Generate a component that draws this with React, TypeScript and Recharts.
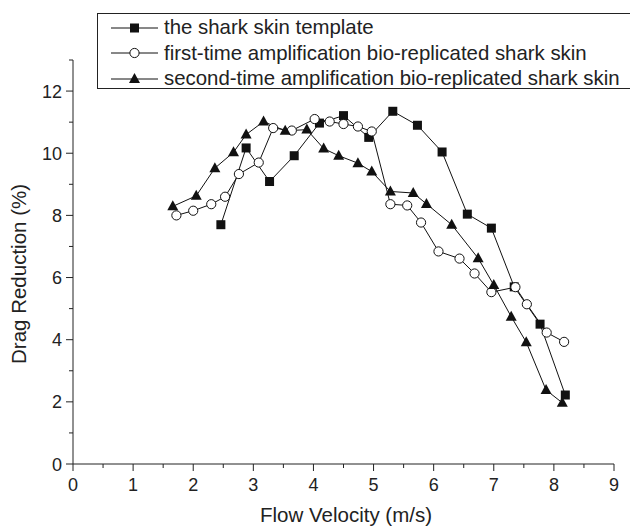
import React from 'react';
import { LineChart, Line, XAxis, YAxis, Legend, Label } from 'recharts';

// shark skin template
const templateX = [2.46, 2.88, 3.27, 3.68, 4.10, 4.50, 4.92, 5.32, 5.73, 6.14, 6.56, 6.96, 7.34, 7.77, 8.19];
const templateY = [7.70, 10.17, 9.09, 9.92, 10.97, 11.21, 10.51, 11.35, 10.90, 10.04, 8.04, 7.59, 5.70, 4.50, 2.22];

// first-time amplification
const firstX = [1.72, 2.0, 2.30, 2.53, 2.76, 3.09, 3.33, 3.64, 4.02, 4.27, 4.50, 4.74, 4.97, 5.28, 5.56, 5.79, 6.08, 6.43, 6.68, 6.96, 7.36, 7.55, 7.88, 8.17];
const firstY = [8.0, 8.15, 8.36, 8.6, 9.33, 9.7, 10.81, 10.73, 11.1, 11.02, 10.94, 10.86, 10.70, 8.36, 8.32, 7.77, 6.84, 6.61, 6.13, 5.53, 5.69, 5.14, 4.23, 3.93];

// second-time amplification
const secondX = [1.66, 2.05, 2.36, 2.67, 2.88, 3.17, 3.53, 3.89, 4.17, 4.42, 4.74, 4.97, 5.28, 5.66, 5.88, 6.30, 6.74, 7.0, 7.29, 7.54, 7.87, 8.14];
const secondY = [8.29, 8.63, 9.52, 10.03, 10.6, 11.02, 10.72, 10.76, 10.15, 9.92, 9.68, 9.41, 8.77, 8.72, 8.37, 7.70, 6.62, 5.76, 4.74, 3.92, 2.38, 1.97];

const xTicks = [0, 0.5, 1, 1.5, 2, 2.5, 3, 3.5, 4, 4.5, 5, 5.5, 6, 6.5, 7, 7.5, 8, 8.5, 9];
const yTicks = [0, 1, 2, 3, 4, 5, 6, 7, 8, 9, 10, 11, 12, 13];

const seriesNames = [
    'the shark skin template',
    'first-time amplification bio-replicated shark skin',
    'second-time amplification bio-replicated shark skin',
];

const toPoints = (xs: number[], ys: number[]) => xs.map((x, i) => ({ x, y: ys[i] }));

const templateData = toPoints(templateX, templateY);
const firstData = toPoints(firstX, firstY);
const secondData = toPoints(secondX, secondY);

const FONT = '"Liberation Sans", Arial, sans-serif';
const INK = '#222';

const SquareDot = ({ cx, cy }: any) => <rect x={cx - 4.5} y={cy - 4.5} width={9} height={9} fill="#111" />;
const CircleDot = ({ cx, cy }: any) => <circle cx={cx} cy={cy} r={4.6} fill="#fff" stroke="#111" strokeWidth={1} />;
const TriangleDot = ({ cx, cy }: any) => (
    <polygon points={`${cx},${cy - 6} ${cx - 5.5},${cy + 4} ${cx + 5.5},${cy + 4}`} fill="#111" />
);

const markers = [SquareDot, CircleDot, TriangleDot];

const XTick = ({ x, y, payload }: any) => {
    const major = Number.isInteger(payload.value);
    return (
        <g>
            <line x1={x} x2={x} y1={y} y2={y + (major ? 7 : 4)} stroke={INK} />
            {major && (
                <text x={x} y={y + 27} textAnchor="middle" fontSize={18} fill={INK} fontFamily={FONT}>
                    {payload.value}
                </text>
            )}
        </g>
    );
};

const YTick = ({ x, y, payload }: any) => {
    const v = payload.value;
    const major = v % 2 === 0 && v <= 12;
    return (
        <g>
            <line x1={x - (major ? 7 : 4)} x2={x} y1={y} y2={y} stroke={INK} />
            {major && (
                <text x={x - 11} y={y + 6.5} textAnchor="end" fontSize={18} fill={INK} fontFamily={FONT}>
                    {v}
                </text>
            )}
        </g>
    );
};

const LegendBox = () => (
    <div
        style={{
            border: `1px solid ${INK}`,
            borderRight: 'none',
            width: 540,
            height: 76,
            boxSizing: 'border-box',
            paddingTop: 1,
            fontFamily: FONT,
            fontSize: 20.4,
            color: INK,
            background: '#fff',
        }}
    >
        {seriesNames.map((name, i) => {
            const Marker = markers[i];
            return (
                <div key={name} style={{ display: 'flex', alignItems: 'center', height: 25.5, whiteSpace: 'nowrap' }}>
                    <svg width={66} height={20} style={{ flex: 'none' }}>
                        <line x1={13} x2={60} y1={10} y2={10} stroke="#111" />
                        <Marker cx={36.5} cy={10} />
                    </svg>
                    <span>{name}</span>
                </div>
            );
        })}
    </div>
);

export default function App() {
    return (
        <div style={{ width: 630, height: 528, background: '#fff', position: 'relative', overflow: 'hidden' }}>
            <style>{`body{margin:0;}`}</style>
            <LineChart width={630} height={528} margin={{ top: 60, right: 16, bottom: 24, left: 0 }}>
                <XAxis
                    type="number"
                    dataKey="x"
                    domain={[0, 9]}
                    ticks={xTicks}
                    interval={0}
                    tickSize={0}
                    tickMargin={0}
                    tickLine={false}
                    axisLine={{ stroke: INK }}
                    tick={<XTick />}
                    height={40}
                    allowDataOverflow
                >
                    <Label
                        content={() => (
                            <text x={346} y={522} textAnchor="middle" fontSize={20.5} fill={INK} fontFamily={FONT}>
                                Flow Velocity (m/s)
                            </text>
                        )}
                    />
                </XAxis>
                <YAxis
                    type="number"
                    domain={[0, 13]}
                    ticks={yTicks}
                    interval={0}
                    tickSize={0}
                    tickMargin={0}
                    tickLine={false}
                    axisLine={{ stroke: INK }}
                    tick={<YTick />}
                    width={73}
                    allowDataOverflow
                >
                    <Label
                        content={() => (
                            <text
                                x={26}
                                y={274}
                                transform="rotate(-90 26 274)"
                                textAnchor="middle"
                                fontSize={20.5}
                                fill={INK}
                                fontFamily={FONT}
                            >
                                Drag Reduction (%)
                            </text>
                        )}
                    />
                </YAxis>
                <Legend
                    layout="vertical"
                    align="center"
                    verticalAlign="middle"
                    wrapperStyle={{ top: 13, left: 97, width: 540 }}
                    content={<LegendBox />}
                />
                <Line data={templateData} dataKey="y" stroke="#111" strokeWidth={1} dot={<SquareDot />} isAnimationActive={false} />
                <Line data={firstData} dataKey="y" stroke="#111" strokeWidth={1} dot={<CircleDot />} isAnimationActive={false} />
                <Line data={secondData} dataKey="y" stroke="#111" strokeWidth={1} dot={<TriangleDot />} isAnimationActive={false} />
            </LineChart>
        </div>
    );
}
